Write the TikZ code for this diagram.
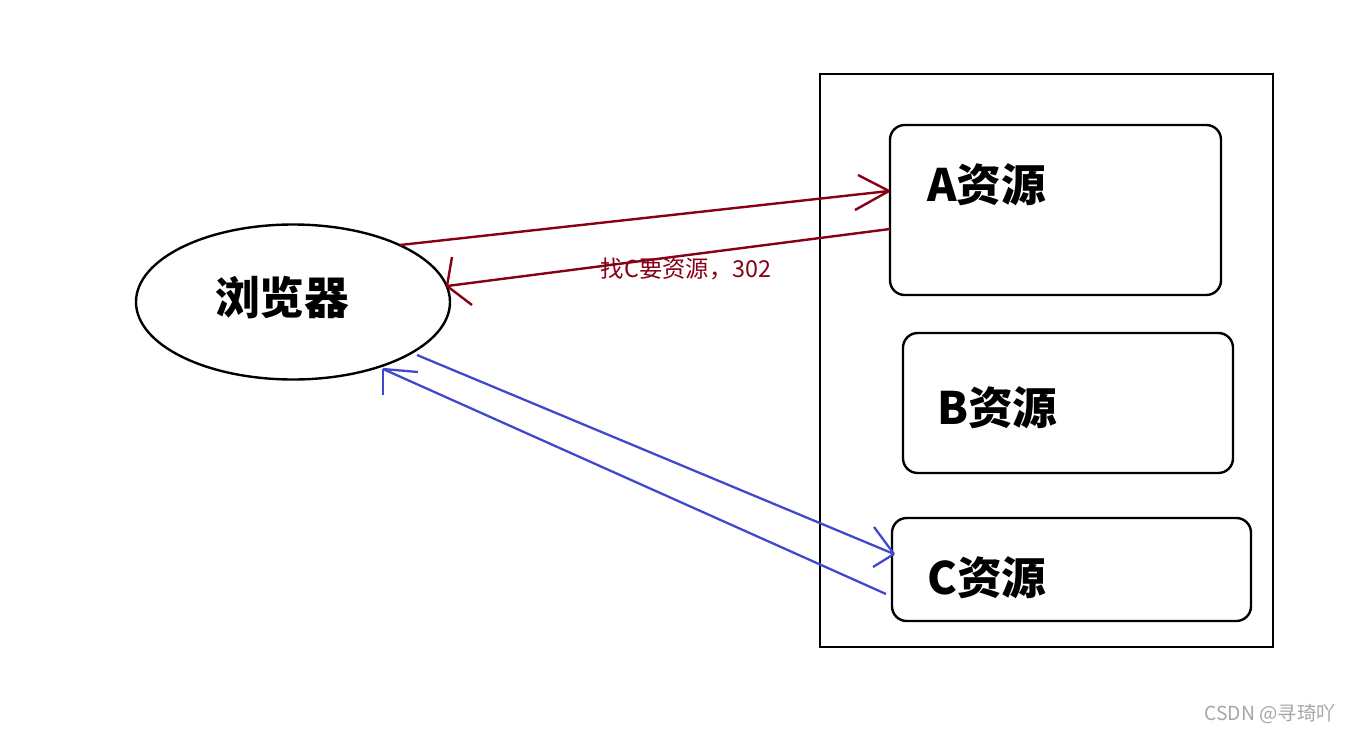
\documentclass[tikz,border=0pt]{standalone}
\usepackage{fontspec}
\usetikzlibrary{shapes.geometric}
\newfontfamily\cjk{Noto Sans CJK SC}
\definecolor{redline}{HTML}{880015}
\definecolor{blueline}{HTML}{3F48CC}
\newcommand\pxu{0.75pt}
\begin{document}
\begin{tikzpicture}[x=0.75pt,y=-0.75pt,
  shapeline/.style={draw=black,line width=1.8pt,inner sep=0pt,outer sep=0pt},
  resbox/.style={shapeline,rectangle,rounded corners=11pt,anchor=north west},
  bigtext/.style={font=\cjk\bfseries\fontsize{33.5}{40}\selectfont,inner sep=0pt},
  redarrow/.style={draw=redline,line width=1.8pt},
  bluearrow/.style={draw=blueline,line width=1.7pt},
  notetext/.style={font=\cjk\fontsize{17.5}{21}\selectfont,text=redline,inner sep=0pt},
  marktext/.style={font=\cjk\fontsize{14.5}{17}\selectfont,text=black!35,inner sep=0pt}]
\useasboundingbox (0,0) rectangle (1350,732);
\fill[white] (0,0) rectangle (1350,732);

% browser
\node[shapeline,ellipse,minimum width=314*\pxu,minimum height=155*\pxu] (browser) at (293,302) {};
\node[bigtext] (browsertext) at (282,298) {浏览器};

% server and resources
\node[shapeline,line width=2pt,rectangle,anchor=north west,minimum width=453*\pxu,minimum height=573*\pxu] (server) at (820,74) {};
\node[resbox,minimum width=331*\pxu,minimum height=170*\pxu] (A) at (890,125) {};
\node[resbox,minimum width=330*\pxu,minimum height=140*\pxu] (B) at (903,333) {};
\node[resbox,minimum width=359*\pxu,minimum height=103*\pxu] (C) at (892,518) {};
\node[bigtext,anchor=west] (Atext) at (927,185) {A资源};
\node[bigtext,anchor=west] (Btext) at (937,408) {B资源};
\node[bigtext,anchor=west] (Ctext) at (927,578) {C资源};

% connector end points
\coordinate (r1s) at (400,245);
\coordinate (r1e) at (889,191);
\coordinate (r2s) at (890,229);
\coordinate (r2e) at (447,286);
\coordinate (b1s) at (417,355);
\coordinate (b1e) at (894,554);
\coordinate (b2s) at (886,594);
\coordinate (b2e) at (383,369);

% red arrows
\draw[redarrow] (r1s) -- (r1e);
\draw[redarrow] (r1e) -- ++(-31,-16);
\draw[redarrow] (r1e) -- ++(-34,19);
\draw[redarrow] (r2s) -- (r2e);
\draw[redarrow] (r2e) -- ++(5,-29);
\draw[redarrow] (r2e) -- ++(25,19);
\node[notetext] (note) at (686,269) {找C要资源，302};

% blue arrows
\draw[bluearrow] (b1s) -- (b1e);
\draw[bluearrow] (b1e) -- ++(-20,-27);
\draw[bluearrow] (b1e) -- ++(-21,13);
\draw[bluearrow] (b2s) -- (b2e);
\draw[bluearrow] (b2e) -- ++(0,26);
\draw[bluearrow] (b2e) -- ++(35,3);

% watermark
\node[marktext,anchor=east] (mark) at (1336,714) {CSDN @寻琦吖};
\end{tikzpicture}
\end{document}
